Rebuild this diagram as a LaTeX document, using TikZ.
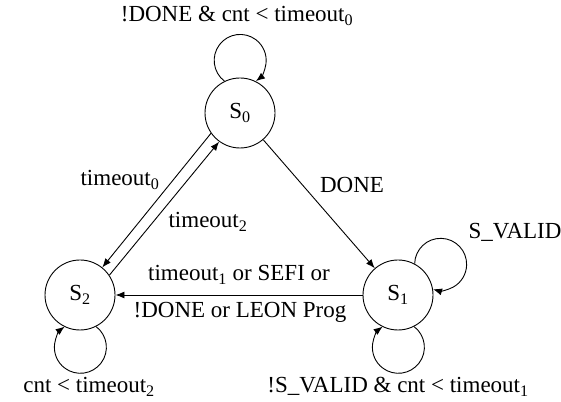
\documentclass[tikz,border=0pt]{standalone}
\usepackage{fontspec}
\setmainfont{Liberation Serif}
\usetikzlibrary{arrows.meta}
\begin{document}
\begin{tikzpicture}[x=1pt,y=1pt,
  state/.style={circle,draw,line width=0.9pt,minimum size=70pt,inner sep=0pt,font=\fontsize{23}{27}\selectfont},
  edge/.style={line width=0.9pt,-{Latex[length=9pt,width=7pt]}},
  lbl/.style={font=\fontsize{23}{27}\selectfont,inner sep=0pt}]
\useasboundingbox (0,0) rectangle (561,401);
\node[state] (s0) at (240,288) {S\textsubscript{0}};
\node[state] (s1) at (398,106) {S\textsubscript{1}};
\node[state] (s2) at (80,106) {S\textsubscript{2}};
% loops
\draw[edge] (s0.116.6) arc[start angle=232.8,end angle=-52.8,radius=26];
\draw[edge] (s1.62.4) arc[start angle=178.6,end angle=-107,radius=26];
\draw[edge] (s1.-63.4) arc[start angle=52.8,end angle=-232.8,radius=26];
\draw[edge] (s2.-63.4) arc[start angle=52.8,end angle=-232.8,radius=26];
% edges
\draw[edge] (s0) -- (s1);
\draw[edge] (s0.215) -- (s2.51);
\draw[edge] (s2.34) -- (s0.234);
\draw[edge] (s1) -- (s2);
% labels
\node[lbl] (l0) at (237,385) {!DONE \& cnt < timeout\textsubscript{0}};
\node[lbl] (l1) at (352,216) {DONE};
\node[lbl] (l2) at (120,221) {timeout\textsubscript{0}};
\node[lbl] (l3) at (208,179) {timeout\textsubscript{2}};
\node[lbl] (l4) at (515,169) {S\_VALID};
\node[lbl] (l5) at (239,126) {timeout\textsubscript{1} or SEFI or};
\node[lbl] (l6) at (240,89) {!DONE or LEON Prog};
\node[lbl] (l7) at (89,14) {cnt < timeout\textsubscript{2}};
\node[lbl] (l8) at (398,14) {!S\_VALID \& cnt < timeout\textsubscript{1}};
\end{tikzpicture}
\end{document}
